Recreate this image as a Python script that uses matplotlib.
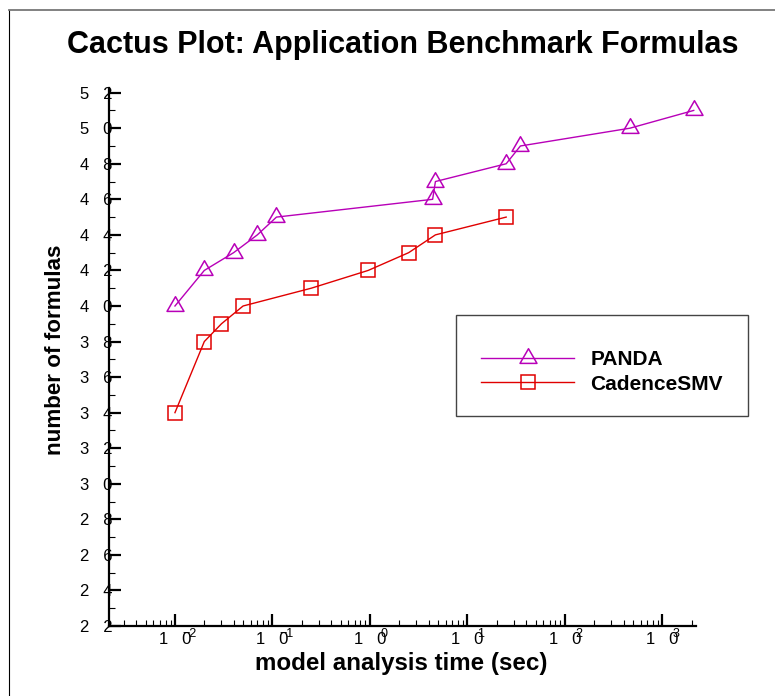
import matplotlib
matplotlib.use("Agg")
import matplotlib.pyplot as plt
from matplotlib.ticker import LogLocator, MultipleLocator, FixedLocator, NullFormatter, FixedFormatter
from matplotlib.path import Path
from matplotlib.lines import Line2D
from matplotlib.patches import Rectangle

plt.rcParams['font.family'] = ['Liberation Sans', 'DejaVu Sans']

title = "Cactus Plot: Application Benchmark Formulas"
x_label = "model analysis time (sec)"
y_label = "number of formulas"
series_names = ["PANDA", "CadenceSMV"]

# solved formulas vs. cumulative analysis time
panda_time = [0.01, 0.02, 0.04, 0.07, 0.11, 4.4, 4.7, 25, 35, 465, 2100]
panda_count = [40, 42, 43, 44, 45, 46, 47, 48, 49, 50, 51]
smv_time = [0.01, 0.02, 0.03, 0.05, 0.25, 0.96, 2.5, 4.7, 25]
smv_count = [34, 38, 39, 40, 41, 42, 43, 44, 45]

x_exponents = [-2, -1, 0, 1, 2, 3]
y_ticks = list(range(22, 53, 2))

W, H = 775, 696
fig = plt.figure(figsize=(W / 100, H / 100), dpi=100)

# outer frame (left and top edges only)
fig.add_artist(Line2D([8.5 / W, 8.5 / W], [0, 1 - 10 / H], transform=fig.transFigure,
                      color='black', lw=0.8))
fig.add_artist(Line2D([8.5 / W, 1], [1 - 10 / H, 1 - 10 / H], transform=fig.transFigure,
                      color='#777777', lw=1.3))

ax = fig.add_axes([109.3 / W, 1 - 626 / H, 586.4 / W, 537.8 / H])
ax.set_xscale('log')
ax.set_xlim(0.00212, 2200)
ax.set_ylim(22, 52.25)

# equilateral triangle marker centred on its centroid
tri = Path([(0, 1.1547), (-1, -0.57735), (1, -0.57735), (0, 1.1547)],
           [Path.MOVETO, Path.LINETO, Path.LINETO, Path.CLOSEPOLY])

magenta = '#b800b8'
red = '#e00000'
ax.plot(panda_time, panda_count, color=magenta, lw=1.0, marker=tri, ms=14.1,
        mfc='none', mec=magenta, mew=1.1, label=series_names[0], clip_on=False)
ax.plot(smv_time, smv_count, color=red, lw=1.0, marker='s', ms=10,
        mfc='none', mec=red, mew=1.1, label=series_names[1], clip_on=False)

for side in ('top', 'right'):
    ax.spines[side].set_visible(False)
for side in ('left', 'bottom'):
    ax.spines[side].set_linewidth(1.6)

x_major = [10.0 ** e for e in x_exponents]
ax.xaxis.set_major_locator(FixedLocator(x_major))
ax.xaxis.set_major_formatter(FixedFormatter(["1   0"] * len(x_exponents)))
ax.xaxis.set_minor_locator(LogLocator(base=10, subs=range(2, 10), numticks=20))
ax.xaxis.set_minor_formatter(NullFormatter())

# decade exponents written above the "0" of each tick label
for val, e in zip(x_major, x_exponents):
    txt = ("\u2212%d" % -e) if e < 0 else "%d" % e
    dx = 5.0 if e < 0 else 7.3
    ax.annotate(txt, xy=(val, 0), xycoords=('data', 'axes fraction'),
                xytext=(dx, -8.0), textcoords='offset points',
                ha='left', va='baseline', fontsize=9, color='black',
                annotation_clip=False)

ax.yaxis.set_major_locator(FixedLocator(y_ticks))
ax.yaxis.set_major_formatter(FixedFormatter(["%d   %d" % (v // 10, v % 10) for v in y_ticks]))
ax.yaxis.set_minor_locator(MultipleLocator(1))

ax.tick_params(which='major', direction='in', length=8.5, width=1.6, labelsize=12)
ax.tick_params(which='minor', direction='in', length=4.3, width=0.8)
ax.tick_params(axis='y', which='major', pad=-2.5)
ax.tick_params(axis='x', which='major', pad=4)

fig.text(402.5 / W, 1 - 53 / H, title, ha='center', va='baseline',
         fontsize=22, fontweight='bold')
fig.text(401.5 / W, 1 - 670 / H, x_label, ha='center', va='baseline',
         fontsize=17.4, fontweight='bold')
fig.text(66 / W, 1 - 350 / H, y_label, ha='right', va='center', rotation=90,
         fontsize=16.1, fontweight='bold')

# legend box
fig.add_artist(Rectangle((456 / W, 1 - 416 / H), (747.7 - 456) / W, (416 - 315) / H,
                         transform=fig.transFigure, fill=False, ec='#444444', lw=1.0))
ax.legend(loc='center left', bbox_to_anchor=(481 / W, 1 - 372 / H),
          bbox_transform=fig.transFigure, frameon=False, borderpad=0, borderaxespad=0,
          handlelength=4.47, handletextpad=0.77, labelspacing=0.25,
          prop={'size': 15, 'weight': 'bold'})

fig.savefig('out.png', dpi=100)
